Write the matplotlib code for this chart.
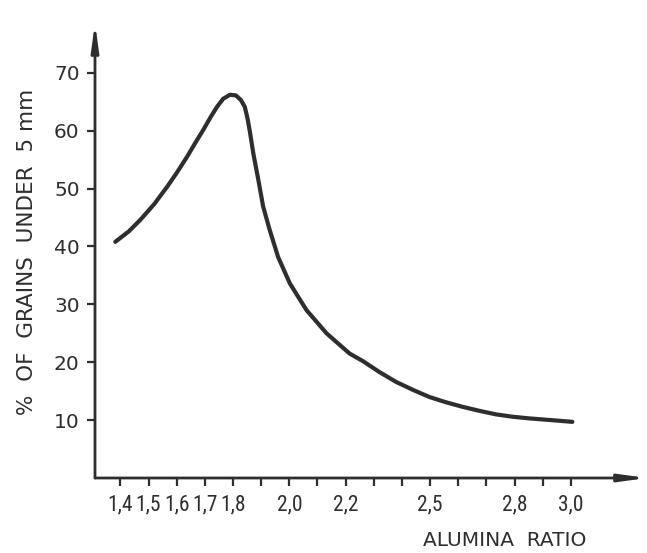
import numpy as np
import matplotlib
matplotlib.use("Agg")
import matplotlib.pyplot as plt
from matplotlib import font_manager
from matplotlib.ticker import FixedLocator, FixedFormatter

# alumina ratio vs. share of fine grains
ratio = [1.382, 1.430, 1.471, 1.520, 1.566, 1.600, 1.637, 1.665, 1.694,
         1.720, 1.743, 1.765, 1.789, 1.810, 1.828, 1.842, 1.852, 1.861,
         1.872, 1.890, 1.907, 1.930, 1.960, 2.002, 2.061, 2.132, 2.214,
         2.261, 2.320, 2.379, 2.440, 2.497, 2.555, 2.615, 2.675, 2.733,
         2.790, 2.851, 2.930, 3.005]
fines = [40.8, 42.6, 44.6, 47.3, 50.3, 52.7, 55.5, 57.8, 60.1,
         62.3, 64.1, 65.5, 66.2, 66.1, 65.3, 64.1, 62.0, 59.5,
         56.1, 51.5, 46.9, 42.9, 38.2, 33.6, 29.0, 25.0, 21.5,
         20.2, 18.3, 16.6, 15.2, 14.0, 13.1, 12.3, 11.6, 11.0,
         10.6, 10.3, 10.0, 9.7]

x_ticks = [1.4, 1.5, 1.6, 1.7, 1.8, 1.9, 2.0, 2.1, 2.2, 2.3, 2.4, 2.5,
           2.6, 2.7, 2.8, 2.9, 3.0]
x_labels = ["1,4", "1,5", "1,6", "1,7", "1,8", "", "2,0", "", "2,2", "", "",
            "2,5", "", "", "2,8", "", "3,0"]
y_ticks = [10, 20, 30, 40, 50, 60, 70]

ink = "#2e2e2e"

# narrow face for the crowded x labels, if one is around
installed = {f.name for f in font_manager.fontManager.ttflist}
narrow = "DejaVu Sans"
for name in ["Liberation Sans Narrow", "DejaVu Sans Condensed",
             "Roboto Condensed", "Open Sans Condensed", "Noto Sans Condensed"]:
    if name in installed:
        narrow = name
        break

fig = plt.figure(figsize=(6.47, 5.53), dpi=100)
ax = fig.add_axes([95 / 647, 75 / 553, 552 / 647, 455 / 553])

ax.plot(ratio, fines, color=ink, lw=3.0, solid_capstyle="round",
        solid_joinstyle="round")

ax.set_xlim(1.31, 3.27)
ax.set_ylim(0, 78.6)

for s in ax.spines.values():
    s.set_visible(False)

# axes drawn as arrows
arr = dict(arrowstyle="-|>,head_length=1.6,head_width=0.22", lw=2.0,
           color=ink, shrinkA=0, shrinkB=0)
ax.annotate("", xy=(0, 1), xytext=(0, 0), xycoords="axes fraction",
            arrowprops=arr, annotation_clip=False)
ax.annotate("", xy=(1.0, 0), xytext=(0, 0), xycoords="axes fraction",
            arrowprops=arr, annotation_clip=False)

ax.xaxis.set_major_locator(FixedLocator(x_ticks))
ax.xaxis.set_major_formatter(FixedFormatter(x_labels))
ax.yaxis.set_major_locator(FixedLocator(y_ticks))
ax.tick_params(axis="both", direction="out", length=6, width=1.6, color=ink,
               labelcolor=ink)
ax.tick_params(axis="y", labelsize=14.5, pad=5)
xsize = 11.5 if narrow == "DejaVu Sans" else 15.5
ax.tick_params(axis="x", labelsize=xsize, pad=6, labelfontfamily=narrow)

fig.text(27 / 647, 1 - 252 / 553, "%  OF  GRAINS  UNDER  5 mm", rotation=90,
         ha="center", va="center", fontsize=15.5, color=ink)
fig.text(505 / 647, 1 - 541 / 553, "ALUMINA  RATIO", ha="center",
         va="center", fontsize=14.5, color=ink)

fig.savefig("out.png", dpi=100)
